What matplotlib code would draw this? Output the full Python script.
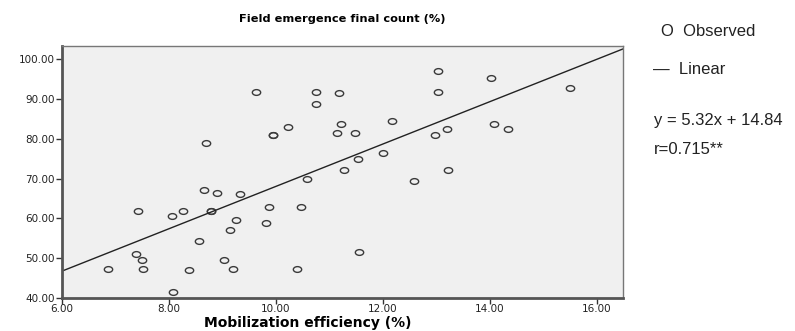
# Scatter of field emergence vs mobilization efficiency with linear fit
import numpy as np
import matplotlib.pyplot as plt
from matplotlib.path import Path
from matplotlib.transforms import Affine2D

# Data
mob_eff = [6.86, 7.42, 7.39, 7.49, 7.51, 8.05, 8.26, 8.08, 8.37, 8.56,
           8.65, 8.90, 8.78, 8.78, 9.33, 9.26, 9.15, 9.03, 9.20, 9.87,
           9.82, 10.39, 10.48, 10.58, 8.70, 9.62, 9.95, 9.95, 10.23, 10.75,
           10.75, 11.18, 11.22, 11.15, 11.48, 12.17, 13.03, 13.03, 14.02, 15.50,
           13.20, 12.98, 14.08, 14.34, 11.53, 12.01, 11.28, 13.22, 12.58, 11.55]
emergence = [47.3, 61.9, 51.0, 49.5, 47.3, 60.6, 61.9, 41.5, 47.0, 54.4,
             67.1, 66.4, 61.8, 61.8, 66.2, 59.6, 57.0, 49.5, 47.3, 62.9,
             58.8, 47.3, 62.9, 70.0, 78.9, 91.8, 80.9, 80.9, 82.9, 91.8,
             88.8, 91.6, 83.8, 81.5, 81.5, 84.4, 97.1, 91.8, 95.3, 92.8,
             82.4, 81.0, 83.8, 82.4, 75.0, 76.5, 72.2, 72.2, 69.4, 51.6]
slope = 5.32
intercept = 14.84
x_ticks = [6, 8, 10, 12, 14, 16]
y_ticks = [40, 50, 60, 70, 80, 90, 100]

plt.rcParams.update({"font.family": "DejaVu Sans"})

fig = plt.figure(figsize=(7.95, 3.31), dpi=100)
ax = fig.add_axes([0.078, 0.0997, 0.706, 0.761])
ax.set_facecolor('#f0f0f0')

# wide elliptical hollow marker, SPSS style
ellipse = Path.unit_circle().transformed(Affine2D().scale(1.45, 1.0))
ax.plot(mob_eff, emergence, linestyle='none', marker=ellipse, markersize=6,
        markerfacecolor='none', markeredgecolor='#3a3a3a', markeredgewidth=1.0)

x_fit = np.array([6.0, 16.5])
ax.plot(x_fit, slope * x_fit + intercept, color='#222222', linewidth=1.0)

ax.set_xlim(6.0, 16.5)
ax.set_ylim(40.0, 103.3)
ax.set_xticks(x_ticks)
ax.set_yticks(y_ticks)
ax.set_xticklabels([f'{v:.2f}' for v in x_ticks])
ax.set_yticklabels([f'{v:.2f}' for v in y_ticks])
ax.tick_params(axis='both', labelsize=7.5, color='#333333', labelcolor='#222222', length=4, width=1)
ax.tick_params(axis='y', pad=1)
ax.tick_params(axis='x', pad=0)

for side in ['top', 'right']:
    ax.spines[side].set_color('#777777')
    ax.spines[side].set_linewidth(1.0)
for side in ['left', 'bottom']:
    ax.spines[side].set_color('#555555')
    ax.spines[side].set_linewidth(2.0)

ax.set_title('Field emergence final count (%)', fontsize=8.2, fontweight='bold', pad=17)
ax.set_xlabel('Mobilization efficiency (%)', fontsize=10, fontweight='bold', labelpad=1)
ax.xaxis.set_label_coords(0.438, -0.07)

# legend / annotation text on the right
txt = dict(family='Liberation Sans', fontsize=12, color='#222222', va='center', ha='left')
fig.text(661 / 795, 1 - 32 / 331, 'O  Observed', **txt)
fig.text(653 / 795, 1 - 70 / 331, '—  Linear', **txt)
fig.text(654 / 795, 1 - 120 / 331, 'y = 5.32x + 14.84', **txt)
fig.text(654 / 795, 1 - 150 / 331, 'r=0.715**', **txt)

fig.savefig('out.png', dpi=100)
